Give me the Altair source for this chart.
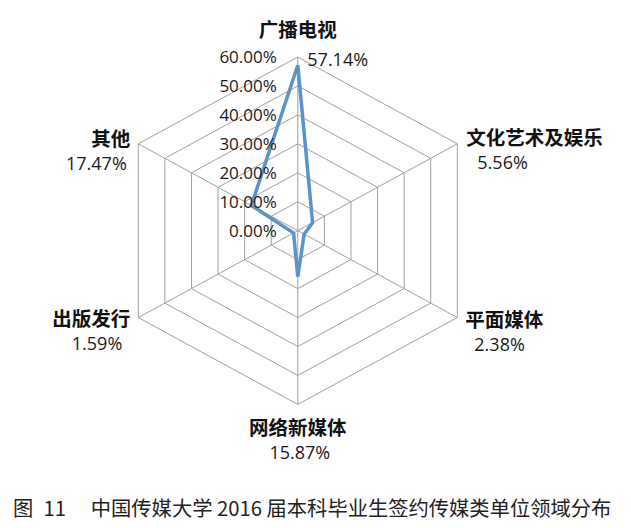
import altair as alt
import pandas as pd

# ---- data ----
categories = ["广播电视", "文化艺术及娱乐", "平面媒体", "网络新媒体", "出版发行", "其他"]
values = [57.14, 5.56, 2.38, 15.87, 1.59, 17.47]
grid_levels = [10, 20, 30, 40, 50, 60]
tick_levels = [0, 10, 20, 30, 40, 50, 60]
caption = "图\u200211\u3000 中国传媒大学 2016 届本科毕业生签约传媒类单位领域分布"

n = len(categories)
rmax = grid_levels[-1]

poly = pd.DataFrame({
    "idx": list(range(n)) + [n],
    "cat": categories + [categories[0]],
    "r": values + [values[0]],
})
rings = pd.DataFrame([{"level": L, "idx": k, "r": L} for L in grid_levels for k in range(n + 1)])
spokes = pd.DataFrame([{"idx": k, "r": r, "o": j} for k in range(n) for j, r in enumerate([0, rmax])])
labels = pd.DataFrame({"idx": list(range(n)), "cat": categories, "value": values, "r": [rmax] * n})
ticks = pd.DataFrame({"level": tick_levels})

calc = dict(
    px="datum.r * sin(datum.idx * 2 * PI / " + str(n) + ")",
    py="datum.r * cos(datum.idx * 2 * PI / " + str(n) + ")",
)

xs = alt.Scale(domain=[-94.4, 105.93], nice=False, zero=False)
ys = alt.Scale(domain=[-85.42, 76.92], nice=False, zero=False)
X = alt.X("px:Q", scale=xs, axis=None)
Y = alt.Y("py:Q", scale=ys, axis=None)

grid_color = "#a0a0a0"

ring_layer = alt.Chart(rings).transform_calculate(**calc).mark_line(
    color=grid_color, strokeWidth=1
).encode(x=X, y=Y, detail="level:N", order="idx:Q")

spoke_layer = alt.Chart(spokes).transform_calculate(**calc).mark_line(
    color=grid_color, strokeWidth=1
).encode(x=X, y=Y, detail="idx:N", order="o:Q")

data_layer = alt.Chart(poly).transform_calculate(**calc).mark_line(
    color="#5b93c7", strokeWidth=3.5, strokeJoin="miter"
).encode(x=X, y=Y, order="idx:Q")

tick_layer = alt.Chart(ticks).transform_calculate(
    px="0", py="datum.level", txt="format(datum.level, '.2f') + '%'"
).mark_text(
    align="right", baseline="middle", dx=-21, dy=1, font="Open Sans",
    fontSize=17, color="#1a1a1a"
).encode(x=X, y=Y, text="txt:N")

# label placement styles per axis: (align, dx, dy) for category and value labels
cat_style = [("center", 0, -26), ("left", 9, -5), ("left", 8, 3),
             ("center", 0, 25), ("right", -8, 2.5), ("right", -8, -4)]
val_style = [("left", 9.5, 3.7), ("left", 20, 20), ("left", 17, 28),
             ("center", 2, 50), ("right", -16, 27.5), ("right", -11.5, 21)]

label_layers = []
for i in range(n):
    base = alt.Chart(labels).transform_filter(f"datum.idx == {i}").transform_calculate(
        txt="format(datum.value, '.2f') + '%'", **calc
    )
    a, dx, dy = cat_style[i]
    label_layers.append(base.mark_text(
        align=a, baseline="middle", dx=dx, dy=dy, font="Noto Sans CJK SC",
        fontWeight="bold", fontSize=19.5, color="#111111"
    ).encode(x=X, y=Y, text="cat:N"))
    a, dx, dy = val_style[i]
    label_layers.append(base.mark_text(
        align=a, baseline="middle", dx=dx, dy=dy, font="Open Sans",
        fontSize=18, color="#1a1a1a"
    ).encode(x=X, y=Y, text="txt:N"))

chart = alt.layer(ring_layer, spoke_layer, data_layer, tick_layer, *label_layers).properties(
    width=615, height=470,
    autosize=alt.AutoSizeParams(type="none"),
    padding={"left": 0, "top": 0, "right": 0, "bottom": 50},
    background="white",
    title=alt.TitleParams(
        caption, orient="bottom", anchor="start", fontSize=20.3,
        font="Noto Sans CJK SC", fontWeight="normal", color="#222222",
        offset=22, dx=5,
    ),
).configure_view(stroke=None)

chart.save("out.html", embed_options={"renderer": "svg", "actions": False})
